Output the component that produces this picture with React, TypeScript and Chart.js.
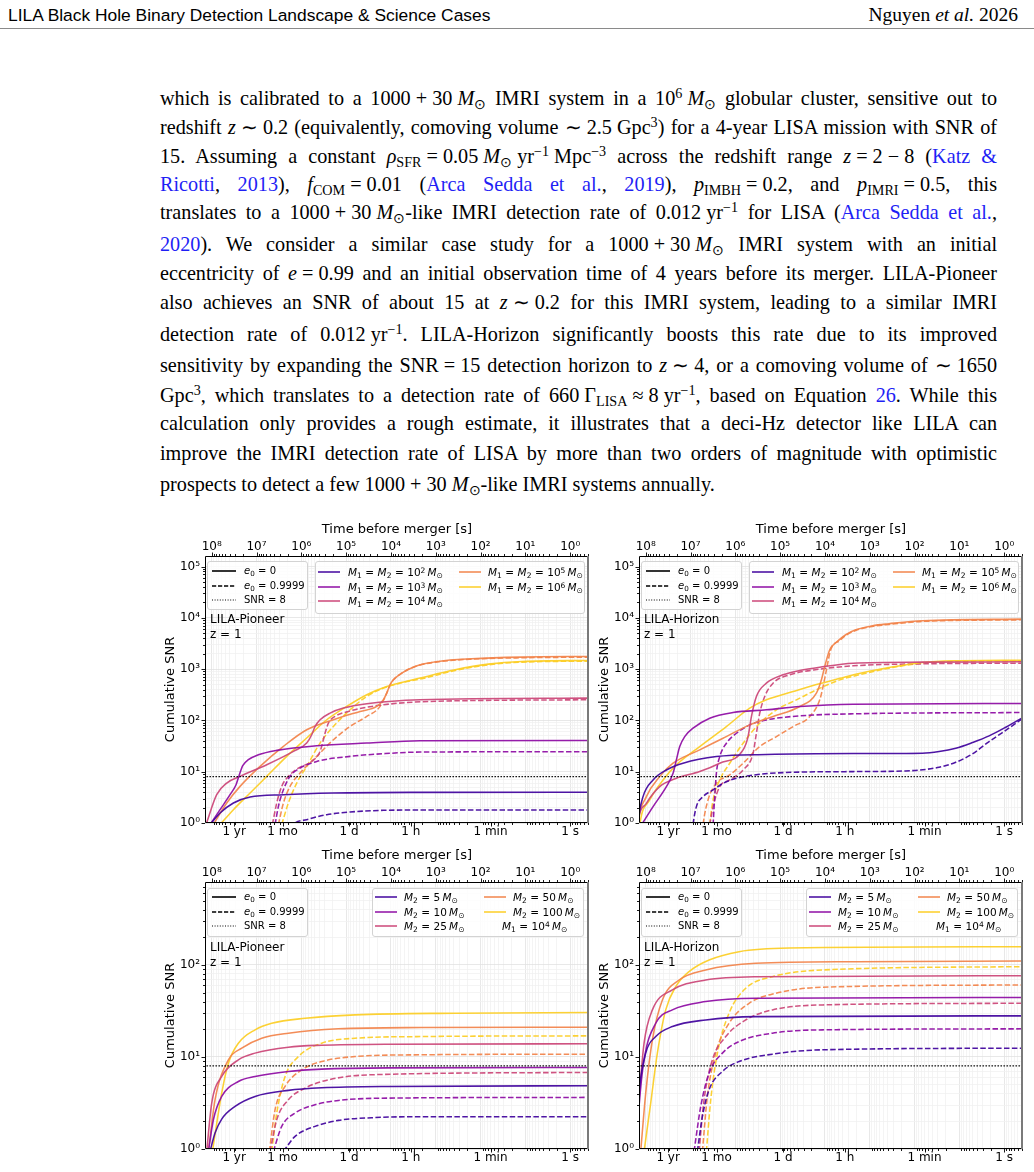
import React, { useEffect, useLayoutEffect, useRef } from 'react';
import { Chart, registerables } from 'chart.js';

Chart.register(...registerables);

const SANS = '"DejaVu Sans", sans-serif';
const SERIF = '"Liberation Serif", "Times New Roman", serif';
const LINK = '#1f1ff5';

// ---------------- data ----------------
const EQUAL_MASS_EXPONENTS = ['2', '3', '4', '5', '6'];
const SECONDARY_MASSES = ['5', '10', '25', '50', '100'];
const PRIMARY_MASS_EXPONENT = '4';
const TIME_TICK_VALUES = [31557600, 2629800, 86400, 3600, 60, 1];
const TIME_TICK_LABELS = ['1 yr', '1 mo', '1 d', '1 h', '1 min', '1 s'];
const SNR_THRESHOLD = 8;
const X_LOG_LIMITS = [-0.42, 8.15];
const Y_LOG_MAX_EQUAL = 5.205;
const Y_LOG_MAX_UNEQUAL = 2.902;

// each curve: [log10(time before merger / s), log10(cumulative SNR)]
const pioneerEqualCircular = [
  [[8.037, -0.03], [7.814, 0.195], [7.516, 0.39], [7.144, 0.506], [6.4, 0.552], [5.284, 0.584], [3.35, 0.597], [-0.48, 0.6]],
  [[8.037, -0.03], [7.814, 0.26], [7.591, 0.552], [7.457, 0.747], [7.383, 0.942], [7.308, 1.117], [7.182, 1.234], [6.958, 1.331], [6.549, 1.416], [5.656, 1.506], [4.54, 1.558], [3.35, 1.604], [-0.48, 1.61]],
  [[8.127, -0.03], [7.889, 0.552], [7.665, 0.779], [7.368, 0.909], [6.772, 1.136], [6.177, 1.396], [5.88, 1.558], [5.768, 1.721], [5.693, 1.883], [5.582, 2.013], [5.359, 2.143], [5.061, 2.24], [4.54, 2.325], [3.35, 2.403], [-0.48, 2.435]],
  [[7.963, -0.03], [7.665, 0.39], [7.368, 0.714], [6.921, 1.104], [6.4, 1.494], [5.88, 1.818], [5.284, 2.013], [4.689, 2.175], [4.317, 2.273], [4.168, 2.403], [4.094, 2.532], [4.019, 2.695], [3.945, 2.792], [3.759, 2.922], [3.461, 3.052], [2.941, 3.149], [2.197, 3.201], [1.08, 3.234], [-0.48, 3.247]],
  [[7.814, -0.03], [7.516, 0.26], [7.144, 0.584], [6.772, 0.909], [6.326, 1.299], [5.88, 1.656], [5.433, 2.013], [4.987, 2.273], [4.54, 2.5], [4.094, 2.662], [3.35, 2.825], [2.569, 2.987], [1.825, 3.097], [1.08, 3.149], [-0.48, 3.169]],
];
const pioneerEqualEccentric = [
  [[6.23, -0.12], [6.177, -0.03], [5.88, 0.065], [5.433, 0.162], [4.912, 0.214], [4.168, 0.247], [3.35, 0.253], [-0.48, 0.255]],
  [[6.586, -0.03], [6.512, 0.325], [6.4, 0.649], [6.252, 0.909], [6.028, 1.071], [5.656, 1.201], [4.912, 1.299], [4.168, 1.351], [3.35, 1.383], [-0.48, 1.39]],
  [[6.646, -0.03], [6.549, 0.39], [6.438, 0.714], [6.289, 0.909], [6.065, 1.071], [5.768, 1.201], [5.582, 1.396], [5.47, 1.753], [5.396, 1.948], [5.247, 2.078], [4.949, 2.175], [4.429, 2.273], [3.313, 2.364], [-0.48, 2.403]],
  [[6.512, -0.03], [6.4, 0.39], [6.252, 0.714], [6.028, 0.974], [5.656, 1.299], [5.284, 1.623], [4.912, 1.883], [4.54, 2.078], [4.243, 2.273], [4.094, 2.532], [4.019, 2.695], [3.945, 2.792], [3.759, 2.922], [3.461, 3.052], [2.941, 3.143], [2.197, 3.195], [1.08, 3.221], [-0.48, 3.234]],
  [[6.438, -0.03], [6.289, 0.39], [6.103, 0.779], [5.88, 1.104], [5.582, 1.558], [5.284, 1.883], [4.912, 2.208], [4.54, 2.468], [4.168, 2.63], [3.796, 2.727], [3.313, 2.812], [2.569, 2.974], [1.825, 3.084], [1.08, 3.136], [-0.48, 3.156]],
];
const horizonEqualCircular = [
  [[8.187, -0.202], [8.164, 0.059], [8.06, 0.514], [7.836, 0.839], [7.539, 1.034], [7.167, 1.165], [6.423, 1.295], [5.307, 1.334], [3.372, 1.353], [1.825, 1.36], [1.452, 1.392], [1.08, 1.457], [0.708, 1.568], [0.336, 1.698], [-0.036, 1.867], [-0.482, 2.09]],
  [[8.097, -0.039], [7.836, 0.319], [7.539, 0.709], [7.39, 0.969], [7.316, 1.23], [7.241, 1.49], [7.13, 1.685], [6.944, 1.848], [6.572, 2.043], [6.051, 2.154], [5.307, 2.206], [4.563, 2.271], [3.372, 2.316], [-0.482, 2.329]],
  [[8.194, -0.202], [8.171, 0.026], [7.985, 0.384], [7.688, 0.709], [7.316, 0.872], [6.795, 1.002], [6.348, 1.165], [5.827, 1.425], [5.716, 1.685], [5.641, 2.075], [5.53, 2.466], [5.307, 2.726], [4.935, 2.889], [4.563, 2.973], [4.116, 3.038], [3.372, 3.116], [1.825, 3.136], [-0.482, 3.142]],
  [[8.201, -0.332], [8.171, -0.007], [7.985, 0.514], [7.688, 0.904], [7.39, 1.165], [6.795, 1.425], [6.274, 1.653], [5.679, 1.913], [5.158, 2.075], [4.563, 2.271], [4.191, 2.531], [4.079, 2.791], [4.005, 3.051], [3.893, 3.377], [3.722, 3.54], [3.536, 3.67], [3.313, 3.767], [2.941, 3.845], [2.569, 3.884], [1.825, 3.943], [-0.482, 3.975]],
  [[8.164, -0.332], [8.134, -0.039], [7.911, 0.449], [7.613, 0.839], [7.316, 1.132], [6.795, 1.49], [6.2, 1.88], [5.679, 2.238], [5.307, 2.401], [4.711, 2.563], [4.191, 2.7], [3.67, 2.82], [3.313, 2.9], [2.569, 3.03], [1.825, 3.129], [1.08, 3.162], [-0.482, 3.175]],
];
const horizonEqualEccentric = [
  [[6.973, -0.332], [6.944, -0.039], [6.869, 0.319], [6.72, 0.514], [6.497, 0.644], [6.274, 0.774], [5.976, 0.872], [5.455, 0.95], [4.935, 0.982], [3.372, 1.002], [2.197, 1.015], [1.452, 1.087], [1.08, 1.184], [0.708, 1.347], [0.336, 1.588], [0.039, 1.763], [-0.482, 2.08]],
  [[6.497, -0.039], [6.46, 0.514], [6.423, 0.969], [6.348, 1.295], [6.2, 1.555], [5.976, 1.75], [5.679, 1.913], [5.307, 2.01], [4.563, 2.088], [3.372, 2.128], [-0.482, 2.154]],
  [[6.572, -0.039], [6.497, 0.319], [6.348, 0.709], [6.125, 0.839], [5.827, 1.034], [5.604, 1.36], [5.53, 1.75], [5.455, 2.141], [5.344, 2.466], [5.158, 2.726], [4.786, 2.889], [4.116, 2.999], [3.372, 3.064], [1.825, 3.103], [-0.482, 3.116]],
  [[6.75, -0.332], [6.72, -0.039], [6.609, 0.449], [6.423, 0.774], [6.125, 0.937], [5.827, 1.165], [5.455, 1.49], [5.083, 1.685], [4.711, 1.88], [4.339, 2.075], [4.116, 2.401], [4.042, 2.661], [3.967, 2.986], [3.871, 3.377], [3.67, 3.559], [3.536, 3.657], [3.313, 3.754], [2.941, 3.832], [2.569, 3.871], [1.825, 3.93], [-0.482, 3.962]],
  [[6.601, -0.332], [6.572, -0.039], [6.497, 0.449], [6.348, 0.839], [6.125, 1.165], [5.827, 1.555], [5.455, 1.945], [5.083, 2.206], [4.637, 2.401], [4.191, 2.596], [3.67, 2.79], [3.372, 2.86], [2.569, 3.019], [1.825, 3.116], [1.08, 3.149], [-0.482, 3.162]],
];
const pioneerUnequalCircular = [
  [[8.037, -0.025], [7.926, 0.174], [7.777, 0.325], [7.479, 0.463], [7.033, 0.571], [6.289, 0.637], [5.545, 0.665], [4.057, 0.68], [-0.482, 0.687]],
  [[8.074, -0.025], [7.963, 0.318], [7.777, 0.571], [7.405, 0.734], [7.033, 0.788], [6.289, 0.843], [5.545, 0.868], [4.057, 0.882], [-0.482, 0.886]],
  [[8.112, -0.025], [8.0, 0.499], [7.777, 0.788], [7.405, 0.969], [7.033, 1.042], [6.289, 1.107], [5.545, 1.128], [4.057, 1.139], [-0.482, 1.143]],
  [[8.074, -0.025], [7.926, 0.535], [7.628, 0.969], [7.33, 1.096], [6.884, 1.204], [6.289, 1.259], [5.173, 1.306], [3.313, 1.32], [-0.482, 1.324]],
  [[7.985, -0.025], [7.777, 0.608], [7.628, 0.933], [7.405, 1.15], [7.033, 1.295], [6.661, 1.367], [5.917, 1.421], [4.801, 1.458], [2.569, 1.476], [-0.482, 1.483]],
];
const pioneerUnequalEccentric = [
  [[6.4, -0.025], [6.14, 0.137], [5.693, 0.246], [5.173, 0.311], [4.429, 0.34], [3.313, 0.351], [-0.482, 0.351]],
  [[6.624, -0.025], [6.438, 0.246], [6.14, 0.391], [5.693, 0.481], [5.173, 0.528], [4.057, 0.553], [-0.482, 0.561]],
  [[6.698, -0.025], [6.549, 0.318], [6.289, 0.535], [5.917, 0.662], [5.396, 0.752], [4.429, 0.807], [-0.482, 0.832]],
  [[6.713, -0.025], [6.586, 0.427], [6.363, 0.68], [5.991, 0.861], [5.545, 0.951], [4.801, 1.005], [3.313, 1.024], [-0.482, 1.031]],
  [[6.661, -0.025], [6.549, 0.391], [6.363, 0.788], [6.065, 1.005], [5.545, 1.15], [4.801, 1.204], [3.313, 1.222], [-0.482, 1.23]],
];
const horizonUnequalCircular = [
  [[8.223, 0], [8.149, 0.608], [8.0, 1.042], [7.777, 1.222], [7.405, 1.331], [6.661, 1.403], [5.545, 1.439], [-0.482, 1.447]],
  [[8.208, 0], [8.149, 0.463], [8.037, 0.969], [7.777, 1.367], [7.405, 1.512], [6.661, 1.602], [5.545, 1.638], [-0.482, 1.646]],
  [[8.223, 0], [8.149, 0.535], [8.037, 1.15], [7.851, 1.512], [7.405, 1.729], [6.661, 1.837], [5.545, 1.873], [-0.482, 1.884]],
  [[8.112, -0.025], [8.0, 0.608], [7.851, 1.186], [7.628, 1.62], [7.256, 1.837], [6.661, 1.946], [5.545, 2.018], [3.313, 2.036], [-0.482, 2.043]],
  [[8.037, -0.025], [7.889, 0.499], [7.74, 1.042], [7.554, 1.512], [7.33, 1.765], [7.033, 1.928], [6.586, 2.054], [5.917, 2.145], [4.801, 2.184], [-0.482, 2.199]],
];
const horizonUnequalEccentric = [
  [[6.847, -0.025], [6.735, 0.354], [6.586, 0.644], [6.289, 0.843], [5.917, 0.951], [5.173, 1.031], [4.057, 1.078], [-0.482, 1.096]],
  [[6.921, -0.025], [6.772, 0.463], [6.586, 0.825], [6.289, 1.042], [5.917, 1.168], [5.173, 1.259], [4.057, 1.295], [-0.482, 1.306]],
  [[6.81, -0.025], [6.698, 0.535], [6.512, 0.969], [6.214, 1.222], [5.768, 1.403], [5.173, 1.512], [4.057, 1.566], [-0.482, 1.584]],
  [[6.735, -0.025], [6.624, 0.571], [6.438, 1.042], [6.14, 1.367], [5.693, 1.584], [5.098, 1.693], [4.057, 1.758], [-0.482, 1.783]],
  [[6.646, -0.025], [6.549, 0.535], [6.4, 1.042], [6.14, 1.476], [5.768, 1.747], [5.173, 1.873], [4.057, 1.946], [-0.482, 1.982]],
];

// ---------------- styles ----------------
const LINE_COLORS = ['#41049d', '#8f0da4', '#cc4778', '#f2844b', '#fcce25'];
const GRID_MAJOR = '#e2e2e2';
const GRID_MINOR = '#f1f1f1';
const SUPERSCRIPT_DIGITS = '⁰¹²³⁴⁵⁶⁷⁸⁹';

function powLabel(v: number) {
  const e = Math.round(Math.log10(v));
  const s = String(e).split('').map((c) => (c === '-' ? '⁻' : SUPERSCRIPT_DIGITS[Number(c)])).join('');
  return '10' + s;
}

function decadeTicks(lo: number, hi: number) {
  const out: { value: number; major: boolean }[] = [];
  for (let d = Math.floor(Math.log10(lo)) - 1; d <= Math.ceil(Math.log10(hi)); d++) {
    for (let k = 1; k <= 9; k++) {
      const v = k * Math.pow(10, d);
      if (v >= lo * 0.9999 && v <= hi * 1.0001) out.push({ value: v, major: k === 1 });
    }
  }
  return out;
}

const axisDecorations = {
  id: 'axisDecorations',
  afterDraw(chart: any) {
    const { ctx, chartArea: a } = chart;
    const sx = chart.scales.x;
    const sx2 = chart.scales.x2;
    const sy = chart.scales.y;
    ctx.save();
    ctx.strokeStyle = '#000';
    ctx.lineWidth = 0.9;
    ctx.beginPath();
    sy.ticks.forEach((t: any) => {
      const p = Math.round(sy.getPixelForValue(t.value)) + 0.5;
      const l = t.major ? 3.5 : 2;
      ctx.moveTo(a.left - l, p);
      ctx.lineTo(a.left, p);
    });
    sx2.ticks.forEach((t: any) => {
      const p = Math.round(sx2.getPixelForValue(t.value)) + 0.5;
      const l = t.major ? 3.5 : 2;
      ctx.moveTo(p, a.top - l);
      ctx.lineTo(p, a.top);
      if (!t.major) {
        ctx.moveTo(p, a.bottom);
        ctx.lineTo(p, a.bottom + 2);
      }
    });
    sx.ticks.forEach((t: any) => {
      const p = Math.round(sx.getPixelForValue(t.value)) + 0.5;
      ctx.moveTo(p, a.bottom);
      ctx.lineTo(p, a.bottom + 3.5);
    });
    ctx.stroke();
    ctx.lineWidth = 1;
    ctx.beginPath();
    ctx.moveTo(a.right - 1, a.top + 0.5);
    ctx.lineTo(a.left + 0.5, a.top + 0.5);
    ctx.lineTo(a.left + 0.5, a.bottom - 0.5);
    ctx.lineTo(a.right - 1, a.bottom - 0.5);
    ctx.stroke();
    ctx.strokeStyle = '#7a7a7a';
    ctx.lineWidth = 2;
    ctx.beginPath();
    ctx.moveTo(a.right - 1, a.top);
    ctx.lineTo(a.right - 1, a.bottom);
    ctx.stroke();
    ctx.restore();
  },
};

type PanelProps = {
  left: number;
  top: number;
  height: number;
  bottomAxis: number;
  yLogMax: number;
  solid: number[][][];
  dashed: number[][][];
};

function Panel({ left, top, height, bottomAxis, yLogMax, solid, dashed }: PanelProps) {
  const ref = useRef<HTMLCanvasElement>(null);
  const width = 445;
  useEffect(() => {
    const canvas = ref.current;
    if (!canvas) return;
    const xMin = Math.pow(10, X_LOG_LIMITS[0]);
    const xMax = Math.pow(10, X_LOG_LIMITS[1]);
    const yMax = Math.pow(10, yLogMax);
    const toPts = (c: number[][]) => c.map(([lt, ls]) => ({ x: Math.pow(10, lt), y: Math.pow(10, ls) }));
    const base = {
      pointRadius: 0,
      fill: false,
      borderWidth: 1.55,
      cubicInterpolationMode: 'monotone',
      capBezierPoints: false,
      xAxisID: 'x',
      yAxisID: 'y',
      borderJoinStyle: 'round',
    };
    const datasets: any[] = [];
    datasets.push({
      ...base,
      data: [{ x: xMax * 2, y: SNR_THRESHOLD }, { x: xMin / 2, y: SNR_THRESHOLD }],
      borderColor: '#000',
      borderWidth: 1.4,
      borderDash: [1.4, 1.6],
      cubicInterpolationMode: 'default',
    });
    solid.forEach((c, i) => datasets.push({ ...base, data: toPts(c), borderColor: LINE_COLORS[i] + 'ee' }));
    dashed.forEach((c, i) => datasets.push({ ...base, data: toPts(c), borderColor: LINE_COLORS[i] + 'ee', borderDash: [5.5, 2.4] }));

    const tickFont = { family: 'DejaVu Sans', size: 12 };
    const titleFont = { family: 'DejaVu Sans', size: 13 };
    const gridColor = (c: any) => (c.tick && c.tick.major ? GRID_MAJOR : GRID_MINOR);

    const chart = new Chart(canvas, {
      type: 'line',
      data: { datasets },
      options: {
        animation: false,
        responsive: false,
        devicePixelRatio: 1,
        layout: { padding: { left: 0, right: 11, top: 0, bottom: 0 } },
        plugins: { legend: { display: false }, tooltip: { enabled: false } },
        scales: {
          x: {
            type: 'logarithmic',
            axis: 'x',
            position: 'bottom',
            reverse: true,
            min: xMin,
            max: xMax,
            afterBuildTicks: (s: any) => {
              s.ticks = TIME_TICK_VALUES.map((v) => ({ value: v, major: true }));
            },
            afterFit: (s: any) => {
              s.height = bottomAxis;
            },
            grid: { display: false, drawTicks: false },
            border: { display: false },
            ticks: {
              autoSkip: false,
              maxRotation: 0,
              minRotation: 0,
              padding: 2,
              font: tickFont,
              color: '#000',
              callback: (_v: any, i: number) => TIME_TICK_LABELS[i],
            },
          },
          x2: {
            type: 'logarithmic',
            axis: 'x',
            position: 'top',
            reverse: true,
            min: xMin,
            max: xMax,
            afterBuildTicks: (s: any) => {
              s.ticks = decadeTicks(xMin, xMax);
            },
            afterFit: (s: any) => {
              s.height = 42;
            },
            grid: { color: gridColor, lineWidth: 0.8, drawTicks: false },
            border: { display: false },
            title: {
              display: true,
              text: 'Time before merger [s]',
              font: titleFont,
              color: '#000',
              padding: { top: 8, bottom: 0 },
            },
            ticks: {
              autoSkip: false,
              maxRotation: 0,
              minRotation: 0,
              padding: 2,
              font: tickFont,
              color: '#000',
              callback: function (v: any, i: number, ticks: any[]) {
                return ticks[i] && ticks[i].major ? powLabel(Number(v)) : '';
              },
            },
          },
          y: {
            type: 'logarithmic',
            position: 'left',
            min: 1,
            max: yMax,
            afterBuildTicks: (s: any) => {
              s.ticks = decadeTicks(1, yMax);
            },
            afterFit: (s: any) => {
              s.width = 50;
            },
            grid: { color: gridColor, lineWidth: 0.8, drawTicks: false },
            border: { display: false },
            title: {
              display: true,
              text: 'Cumulative SNR',
              font: titleFont,
              color: '#000',
              padding: { top: 8, bottom: 0 },
            },
            ticks: {
              autoSkip: false,
              padding: 5,
              font: tickFont,
              color: '#000',
              callback: function (v: any, i: number, ticks: any[]) {
                return ticks[i] && ticks[i].major ? powLabel(Number(v)) : '';
              },
            },
          },
        },
      } as any,
      plugins: [axisDecorations],
    });
    return () => chart.destroy();
  }, [left, top, height, bottomAxis, yLogMax, solid, dashed]);
  return (
    <canvas
      ref={ref}
      width={width}
      height={height}
      style={{ position: 'absolute', left, top, width, height }}
    />
  );
}

// ---------------- text helpers ----------------
const T = '\u2005';
const Sub = ({ children }: any) => (
  <span style={{ fontSize: '70%', verticalAlign: '-0.28em', lineHeight: 0 }}>{children}</span>
);
const Sup = ({ children }: any) => (
  <span style={{ fontSize: '70%', verticalAlign: '0.48em', lineHeight: 0 }}>{children}</span>
);
const MS = () => (
  <>
    <i>M</i>
    <Sub>⊙</Sub>
  </>
);
const L = ({ children }: any) => <span style={{ color: LINK }}>{children}</span>;

const PARAGRAPH_LINES: any[] = [
  <>which is calibrated to a {`1000${T}+${T}30${T}`}<MS /> IMRI system in a 10<Sup>6</Sup>{T}<MS /> globular cluster, sensitive out to</>,
  <>redshift <i>z</i>{`${T}∼${T}0.2`} (equivalently, comoving volume {`∼${T}2.5${T}`}Gpc<Sup>3</Sup>) for a 4-year LISA mission with SNR of</>,
  <>15. Assuming a constant <i>ρ</i><Sub>SFR</Sub>{`${T}=${T}0.05${T}`}<MS />{T}yr<Sup>−1</Sup>{T}Mpc<Sup>−3</Sup> across the redshift range <i>z</i>{`${T}=${T}2${T}−${T}8`} (<L>Katz &amp;</L></>,
  <><L>Ricotti</L>, <L>2013</L>), <i>f</i><Sub>COM</Sub>{`${T}=${T}0.01`} (<L>Arca Sedda et al.</L>, <L>2019</L>), <i>p</i><Sub>IMBH</Sub>{`${T}=${T}0.2`}, and <i>p</i><Sub>IMRI</Sub>{`${T}=${T}0.5`}, this</>,
  <>translates to a {`1000${T}+${T}30${T}`}<MS />-like IMRI detection rate of 0.012{T}yr<Sup>−1</Sup> for LISA (<L>Arca Sedda et al.</L>,</>,
  <><L>2020</L>). We consider a similar case study for a {`1000${T}+${T}30${T}`}<MS /> IMRI system with an initial</>,
  <>eccentricity of <i>e</i>{`${T}=${T}0.99`} and an initial observation time of 4 years before its merger. LILA-Pioneer</>,
  <>also achieves an SNR of about 15 at <i>z</i>{`${T}∼${T}0.2`} for this IMRI system, leading to a similar IMRI</>,
  <>detection rate of 0.012{T}yr<Sup>−1</Sup>. LILA-Horizon significantly boosts this rate due to its improved</>,
  <>sensitivity by expanding the {`SNR${T}=${T}15`} detection horizon to <i>z</i>{`${T}∼${T}4`}, or a comoving volume of {`∼${T}1650`}</>,
  <>Gpc<Sup>3</Sup>, which translates to a detection rate of 660{T}Γ<Sub>LISA</Sub>{`${T}≈${T}8${T}`}yr<Sup>−1</Sup>, based on Equation <L>26</L>. While this</>,
  <>calculation only provides a rough estimate, it illustrates that a deci-Hz detector like LILA can</>,
  <>improve the IMRI detection rate of LISA by more than two orders of magnitude with optimistic</>,
  <>prospects to detect a few {`1000${T}+${T}30${T}`}<MS />-like IMRI systems annually.</>,
];
const LINE_BASELINES = [105, 134, 162.7, 191, 219.5, 251.5, 280.5, 309.5, 341.5, 372.5, 402.5, 430.5, 460.5, 491.5];
const TEXT_LEFT = 160;
const TEXT_WIDTH = 837;
const TEXT_SIZE = 20.2;

function TextLine({ baseline, last, children }: any) {
  const ref = useRef<HTMLDivElement>(null);
  const inner = useRef<HTMLSpanElement>(null);
  useLayoutEffect(() => {
    const el = ref.current;
    const sp = inner.current;
    if (!el || !sp) return;
    el.style.wordSpacing = '0px';
    el.style.letterSpacing = '0px';
    el.style.whiteSpace = 'nowrap';
    const natural = sp.getBoundingClientRect().width;
    const text = sp.textContent || '';
    const spaces = text.split(' ').length - 1;
    if (natural > TEXT_WIDTH - 1 && spaces > 0) {
      el.style.wordSpacing = `${-((natural - TEXT_WIDTH + 2) / spaces)}px`;
    } else if (!last && natural < TEXT_WIDTH) {
      const ls = Math.min(0.55, (0.55 * (TEXT_WIDTH - natural)) / Math.max(text.length, 1));
      el.style.letterSpacing = `${ls}px`;
      const after = sp.getBoundingClientRect().width;
      if (after > TEXT_WIDTH - 1) el.style.letterSpacing = '0px';
    }
    el.style.whiteSpace = 'normal';
  }, []);
  return (
    <div
      ref={ref}
      style={{
        position: 'absolute',
        left: TEXT_LEFT,
        width: TEXT_WIDTH,
        top: baseline - 19.2,
        height: 25,
        lineHeight: '25px',
        fontSize: TEXT_SIZE,
        fontFamily: SERIF,
        color: '#000',
        textAlign: last ? 'left' : 'justify',
        textAlignLast: last ? 'left' : 'justify',
      } as any}
    >
      <span ref={inner}>{children}</span>
    </div>
  );
}

// ---------------- legend helpers ----------------
function Box({ x, y, w, h }: any) {
  return (
    <div
      style={{
        position: 'absolute',
        left: x,
        top: y,
        width: w,
        height: h,
        boxSizing: 'border-box',
        border: '1px solid #d3d3d3',
        borderRadius: 3,
        background: 'rgba(255,255,255,0.82)',
      }}
    />
  );
}
function Handle({ x, y, w, color, dash, opacity = 1, lw = 1.6 }: any) {
  return (
    <svg width={w} height={6} style={{ position: 'absolute', left: x, top: y - 3, overflow: 'visible' }}>
      <line x1={0} y1={3} x2={w} y2={3} stroke={color} strokeWidth={lw} strokeDasharray={dash} strokeOpacity={opacity} />
    </svg>
  );
}
function Txt({ x, y, size = 10, children }: any) {
  return (
    <div
      style={{
        position: 'absolute',
        left: x,
        top: y - 8,
        height: 16,
        lineHeight: '16px',
        fontSize: size,
        fontFamily: SANS,
        whiteSpace: 'nowrap',
        color: '#000',
      }}
    >
      {children}
    </div>
  );
}
const LSub = ({ children }: any) => (
  <span style={{ fontSize: '72%', verticalAlign: '-0.25em', lineHeight: 0 }}>{children}</span>
);
const LSup = ({ children }: any) => (
  <span style={{ fontSize: '72%', verticalAlign: '0.45em', lineHeight: 0 }}>{children}</span>
);
const LMS = () => (
  <>
    <i>M</i>
    <LSub>⊙</LSub>
  </>
);
const EQ = '\u2004=\u2004';

function StyleLegend({ x, rows }: any) {
  return (
    <>
      <Handle x={x + 5} y={rows[0]} w={24} color="#000" />
      <Txt x={x + 37} y={rows[0]}>
        <i>e</i>
        <LSub>0</LSub>
        {EQ}0
      </Txt>
      <Handle x={x + 5} y={rows[1]} w={24} color="#000" dash="4.2 1.8" />
      <Txt x={x + 37} y={rows[1]}>
        <i>e</i>
        <LSub>0</LSub>
        {EQ}0.9999
      </Txt>
      <Handle x={x + 5} y={rows[2]} w={24} color="#000" dash="1 1.6" lw={1.2} />
      <Txt x={x + 37} y={rows[2]}>SNR = 8</Txt>
    </>
  );
}

function EqualOverlay({ dx, name }: any) {
  const rows1 = [571, 585.5, 600];
  const rows2 = [572, 586.5, 601];
  const hx = [318, 459];
  const tx = [348, 488];
  return (
    <>
      <Box x={207 + dx} y={561} w={101} h={49} />
      <StyleLegend x={207 + dx} rows={rows1} />
      <Box x={315 + dx} y={561} w={270} h={53} />
      {EQUAL_MASS_EXPONENTS.map((e, i) => {
        const col = i < 3 ? 0 : 1;
        const row = i < 3 ? i : i - 3;
        return (
          <React.Fragment key={e}>
            <Handle x={hx[col] + dx} y={rows2[row]} w={22} color={LINE_COLORS[i]} opacity={0.75} lw={2} />
            <Txt x={tx[col] + dx} y={rows2[row]} size={10.5}>
              <i>M</i>
              <LSub>1</LSub>
              {EQ}
              <i>M</i>
              <LSub>2</LSub>
              {EQ}10<LSup>{e}</LSup>
              {'\u2009'}
              <LMS />
            </Txt>
          </React.Fragment>
        );
      })}
      <Txt x={210 + dx} y={619} size={12}>
        {name}
      </Txt>
      <Txt x={210 + dx} y={634} size={12}>
        z = 1
      </Txt>
    </>
  );
}

function UnequalOverlay({ dx, name }: any) {
  const rows = [897, 911.5, 926];
  const hx = [375, 484];
  const tx = [404, 513];
  return (
    <>
      <Box x={207 + dx} y={888} w={101} h={49} />
      <StyleLegend x={207 + dx} rows={rows} />
      <Box x={372 + dx} y={888} w={212} h={49} />
      {SECONDARY_MASSES.map((m, i) => {
        const col = i < 3 ? 0 : 1;
        const row = i < 3 ? i : i - 3;
        return (
          <React.Fragment key={m}>
            <Handle x={hx[col] + dx} y={rows[row]} w={22} color={LINE_COLORS[i]} opacity={0.75} lw={2} />
            <Txt x={tx[col] + dx} y={rows[row]} size={10.5}>
              <i>M</i>
              <LSub>2</LSub>
              {EQ}
              {m}
              {'\u2009'}
              <LMS />
            </Txt>
          </React.Fragment>
        );
      })}
      <Txt x={502 + dx} y={rows[2]} size={10.5}>
        <i>M</i>
        <LSub>1</LSub>
        {EQ}10<LSup>{PRIMARY_MASS_EXPONENT}</LSup>
        {'\u2009'}
        <LMS />
      </Txt>
      <Txt x={210 + dx} y={947} size={12}>
        {name}
      </Txt>
      <Txt x={210 + dx} y={962} size={12}>
        z = 1
      </Txt>
    </>
  );
}

export default function App() {
  return (
    <div
      style={{
        position: 'fixed',
        left: 0,
        top: 0,
        width: 1034,
        height: 1172,
        overflow: 'hidden',
        background: '#fff',
      }}
    >
      <div
        style={{
          position: 'absolute',
          left: 8,
          top: 4,
          fontFamily: '"Liberation Sans", sans-serif',
          fontSize: 17.4,
          lineHeight: '22px',
          whiteSpace: 'nowrap',
        }}
      >
        LILA Black Hole Binary Detection Landscape &amp; Science Cases
      </div>
      <div
        style={{
          position: 'absolute',
          right: 16,
          top: 4,
          fontFamily: SERIF,
          fontSize: 19.5,
          lineHeight: '22px',
          whiteSpace: 'nowrap',
        }}
      >
        Nguyen <i>et al.</i> 2026
      </div>
      <div style={{ position: 'absolute', left: 0, top: 28, width: 1034, height: 1, background: '#8a8a8a' }} />

      {PARAGRAPH_LINES.map((content, i) => (
        <TextLine key={i} baseline={LINE_BASELINES[i]} last={i === PARAGRAPH_LINES.length - 1}>
          {content}
        </TextLine>
      ))}

      <Panel left={155} top={514} height={334} bottomAxis={25} yLogMax={Y_LOG_MAX_EQUAL} solid={pioneerEqualCircular} dashed={pioneerEqualEccentric} />
      <Panel left={589} top={514} height={334} bottomAxis={25} yLogMax={Y_LOG_MAX_EQUAL} solid={horizonEqualCircular} dashed={horizonEqualEccentric} />
      <Panel left={155} top={840} height={332} bottomAxis={23} yLogMax={Y_LOG_MAX_UNEQUAL} solid={pioneerUnequalCircular} dashed={pioneerUnequalEccentric} />
      <Panel left={589} top={840} height={332} bottomAxis={23} yLogMax={Y_LOG_MAX_UNEQUAL} solid={horizonUnequalCircular} dashed={horizonUnequalEccentric} />

      <EqualOverlay dx={0} name="LILA-Pioneer" />
      <EqualOverlay dx={434} name="LILA-Horizon" />
      <UnequalOverlay dx={0} name="LILA-Pioneer" />
      <UnequalOverlay dx={434} name="LILA-Horizon" />
    </div>
  );
}
